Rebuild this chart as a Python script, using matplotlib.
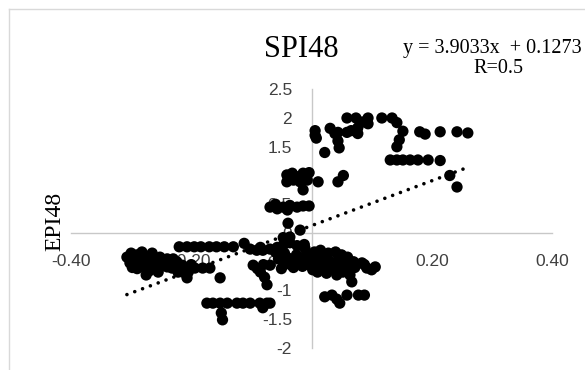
import matplotlib
matplotlib.use("Agg")
import matplotlib.pyplot as plt
from matplotlib.lines import Line2D
import numpy as np

# ---------------- data ----------------
title = "SPI48"
y_label = "EPI48"
equation = "y = 3.9033x  + 0.1273"
r_text = "R=0.5"
slope, intercept = 3.9033, 0.1273
trend_x_range = [-0.307, 0.262]

x_ticks = [-0.40, -0.20, 0.00, 0.20, 0.40]
x_tick_labels = ["-0.40", "-0.20", "0.00", "0.20", "0.40"]
y_ticks = [-2, -1.5, -1, -0.5, 0, 0.5, 1, 1.5, 2, 2.5]
y_tick_labels = ["-2", "-1.5", "-1", "-0.5", "0", "0.5", "1", "1.5", "2", "2.5"]

# left low cluster
left_x = [-0.307, -0.302, -0.300, -0.295, -0.290, -0.288, -0.282, -0.280, -0.278, -0.275,
          -0.272, -0.269, -0.264, -0.260, -0.252, -0.252, -0.245, -0.240, -0.235, -0.232,
          -0.224, -0.224, -0.215, -0.214, -0.207, -0.194, -0.181, -0.169, -0.152, -0.265,
          -0.298, -0.286, -0.290, -0.270, -0.255, -0.240, -0.200, -0.205, -0.222, -0.230]
left_y = [-0.42, -0.52, -0.35, -0.45, -0.38, -0.55, -0.33, -0.47, -0.60, -0.73,
          -0.43, -0.56, -0.59, -0.48, -0.42, -0.59, -0.52, -0.59, -0.50, -0.61,
          -0.59, -0.50, -0.56, -0.68, -0.78, -0.61, -0.61, -0.61, -0.78, -0.35,
          -0.60, -0.40, -0.62, -0.66, -0.68, -0.45, -0.55, -0.68, -0.68, -0.45]

# row just below zero
row0_x = [-0.220, -0.207, -0.195, -0.184, -0.170, -0.158, -0.145, -0.130,
          -0.112, -0.102, -0.091, -0.081, -0.069, -0.057, -0.047, -0.036,
          -0.047, -0.036, -0.024, -0.012, -0.060, -0.085]
row0_y = [-0.24, -0.24, -0.24, -0.24, -0.24, -0.24, -0.24, -0.24,
          -0.18, -0.28, -0.30, -0.30, -0.28, -0.25, -0.21, -0.17,
          -0.08, -0.07, -0.22, -0.20, -0.33, -0.25]

# centre low cluster
mid_x = [-0.097, -0.085, -0.080, -0.069, -0.074, -0.078, -0.046, -0.040, -0.028, -0.019,
         -0.008, -0.008, -0.030, -0.015, -0.050, -0.045, -0.035, -0.025, -0.015, -0.005,
         -0.055, -0.090]
mid_y = [-0.56, -0.68, -0.55, -0.56, -0.90, -0.77, -0.52, -0.43, -0.47, -0.43,
         -0.47, -0.36, -0.60, -0.58, -0.62, -0.35, -0.55, -0.38, -0.50, -0.55,
         -0.45, -0.62]

# right low cluster
rlow_x = [-0.011, 0.002, 0.002, 0.010, 0.019, 0.020, 0.031, 0.036, 0.042, 0.045,
          0.052, 0.059, 0.064, 0.067, 0.055, 0.030, 0.012, 0.084, 0.092, 0.100,
          0.106, 0.072, 0.048, 0.025, 0.005, 0.015, 0.028, 0.040, 0.050, 0.060,
          0.040, 0.052, 0.025, 0.010, 0.088, 0.070]
rlow_y = [-0.26, -0.47, -0.64, -0.40, -0.43, -0.55, -0.50, -0.61, -0.73, -0.45,
          -0.47, -0.61, -0.73, -0.85, -0.55, -0.62, -0.55, -0.52, -0.61, -0.64,
          -0.59, -0.60, -0.65, -0.40, -0.33, -0.30, -0.35, -0.33, -0.38, -0.42,
          -0.55, -0.68, -0.70, -0.68, -0.55, -0.50]

# rows near -1.1 / -1.25
neg1_x = [0.022, 0.034, 0.047, 0.059, 0.078, 0.088, 0.042,
          -0.174, -0.164, -0.152, -0.140, -0.124, -0.114, -0.102, -0.086, -0.074, -0.069,
          -0.081, -0.150, -0.148]
neg1_y = [-1.11, -1.08, -1.22, -1.08, -1.08, -1.08, -1.15,
          -1.22, -1.22, -1.22, -1.22, -1.22, -1.22, -1.22, -1.22, -1.22, -1.22,
          -1.30, -1.39, -1.51]

# cluster around 0.5 and 0
half_x = [-0.069, -0.060, -0.057, -0.047, -0.040, -0.036, -0.024, -0.014, -0.004,
          -0.039, -0.019]
half_y = [0.45, 0.50, 0.42, 0.45, 0.40, 0.48, 0.45, 0.47, 0.47,
          0.17, 0.05]

# cluster around 1
one_x = [-0.041, -0.032, -0.014, -0.007, -0.041, -0.030, -0.019, -0.014, -0.004, -0.025,
         0.011, 0.044, 0.053]
one_y = [1.01, 1.04, 1.04, 0.92, 0.89, 0.92, 0.89, 0.75, 1.05, 0.98,
         0.89, 0.89, 1.00]

# upper right cluster
up_x = [0.006, 0.006, 0.008, 0.022, 0.031, 0.039, 0.044, 0.044, 0.046, 0.059,
        0.059, 0.066, 0.074, 0.077, 0.077, 0.085, 0.094, 0.094, 0.117, 0.134,
        0.142, 0.152, 0.146, 0.142, 0.180, 0.189, 0.214, 0.242, 0.260,
        0.131, 0.142, 0.152, 0.164, 0.177, 0.194, 0.214, 0.230, 0.242]
up_y = [1.78, 1.70, 1.65, 1.40, 1.82, 1.73, 1.75, 1.60, 1.48, 2.00,
        1.75, 1.78, 2.00, 1.83, 1.73, 1.93, 2.00, 1.90, 2.00, 2.00,
        1.92, 1.77, 1.62, 1.50, 1.76, 1.72, 1.76, 1.76, 1.74,
        1.27, 1.27, 1.27, 1.27, 1.27, 1.27, 1.26, 1.00, 0.80]

xs = np.array(left_x + row0_x + mid_x + rlow_x + neg1_x + half_x + one_x + up_x)
ys = np.array(left_y + row0_y + mid_y + rlow_y + neg1_y + half_y + one_y + up_y)

# ---------------- figure ----------------
W, H = 585, 370
fig = plt.figure(figsize=(W / 100, H / 100), dpi=100)
fig.patch.set_facecolor("white")

ax = fig.add_axes([71 / W, 1 - 348 / H, 481 / W, (348 - 89.25) / H])
ax.set_xlim(-0.4, 0.4)
ax.set_ylim(-2, 2.5)

for s in ["top", "right"]:
    ax.spines[s].set_visible(False)
for s in ["left", "bottom"]:
    ax.spines[s].set_position(("data", 0))
    ax.spines[s].set_color("#c8c8c8")
    ax.spines[s].set_linewidth(1.0)

ax.set_xticks(x_ticks)
ax.set_xticklabels(x_tick_labels)
ax.set_yticks(y_ticks)
ax.set_yticklabels(y_tick_labels)
ax.tick_params(axis="both", length=0, labelsize=12.5, labelcolor="#404040")
ax.tick_params(axis="x", pad=15)
ax.tick_params(axis="y", pad=14)
for lab in ax.get_xticklabels() + ax.get_yticklabels():
    lab.set_fontfamily("Liberation Sans")

ax.scatter(xs, ys, s=66, color="black", edgecolors="none", zorder=3, clip_on=False)

tx = np.array(trend_x_range)
ax.plot(tx, slope * tx + intercept, color="black", linewidth=2.6,
        linestyle=(0, (0.01, 2.3)), dash_capstyle="round", zorder=4)

fig.text(301 / W, 1 - 57 / H, title, family="Liberation Serif", fontsize=22,
         ha="center", va="baseline")
fig.text(403 / W, 1 - 53 / H, equation, family="Liberation Serif", fontsize=14.5,
         ha="left", va="baseline")
fig.text(498 / W, 1 - 73 / H, r_text, family="Liberation Serif", fontsize=14.5,
         ha="center", va="baseline")
fig.text(55 / W, 1 - 221 / H, y_label, family="Liberation Serif", fontsize=17,
         rotation=90, ha="center", va="center")

# chart area border (top and left edges visible)
fig.add_artist(Line2D([8.5 / W, 1.0], [1 - 8.5 / H, 1 - 8.5 / H], transform=fig.transFigure,
                      color="#d9d9d9", linewidth=1.0))
fig.add_artist(Line2D([8.5 / W, 8.5 / W], [0.0, 1 - 8.5 / H], transform=fig.transFigure,
                      color="#d9d9d9", linewidth=1.0))

fig.savefig("out.png", dpi=100)
